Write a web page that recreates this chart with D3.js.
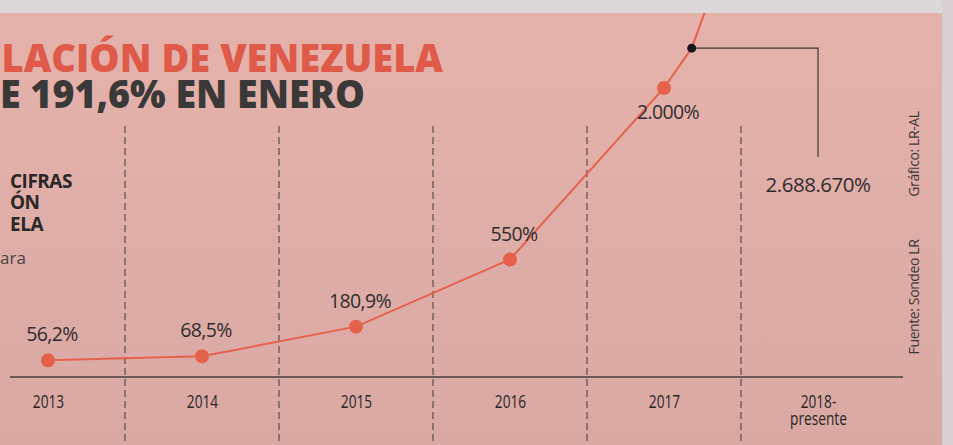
<!DOCTYPE html>
<html><head><meta charset="utf-8">
<script src="https://cdn.jsdelivr.net/npm/d3@7"></script>
<style>html,body{margin:0;padding:0;background:#dcd8da;overflow:hidden}svg{display:block}</style>
</head><body>
<script>
// ---- data ----
const years = [2013, 2014, 2015, 2016, 2017, 2018];
const yearLabels = [["2013"], ["2014"], ["2015"], ["2016"], ["2017"], ["2018-", "presente"]];
const inflation = [56.2, 68.5, 180.9, 550, 2000];
const valueLabels = ["56,2%", "68,5%", "180,9%", "550%", "2.000%"];
const labelSide = ["above", "above", "above", "above", "below"];
// continuation of the curve after 2017
const trendYears = [2017.18, 2017.27];
const trendValues = [2420, 2850];
const calloutYear = 2017.18;
const calloutValue = 2420;
const calloutLabel = "2.688.670%";
const calloutTarget = 2018;

const W = 953, H = 445;
const svg = d3.select("body").append("svg").attr("width", W).attr("height", H);
const defs = svg.append("defs");
const grad = defs.append("linearGradient").attr("id", "bg").attr("x1", 0).attr("y1", 0).attr("x2", 0).attr("y2", 1);
grad.append("stop").attr("offset", "0%").attr("stop-color", "#e5b2ab");
grad.append("stop").attr("offset", "100%").attr("stop-color", "#daa9a4");

svg.append("rect").attr("width", W).attr("height", H).attr("fill", "#dcd8da");
svg.append("rect").attr("x", 0).attr("y", 13).attr("width", 942).attr("height", H - 13).attr("fill", "url(#bg)");

const x = d3.scaleLinear().domain([2013, 2018]).range([48, 818]);
const y = d3.scalePow().exponent(0.65).domain([0, 2000]).range([390, 88]);

const dark = "#302c2c";
const red = "#e6614b";

// dashed separators
const seps = years.slice(0, -1).map(d => d + 0.5);
svg.append("g").selectAll("line").data(seps).join("line")
  .attr("x1", d => x(d)).attr("x2", d => x(d))
  .attr("y1", 126).attr("y2", H)
  .attr("stroke", "#4e4646").attr("stroke-width", 1.1)
  .attr("stroke-dasharray", "7,4");

// axis
const axis = d3.axisBottom(x).tickValues(years).tickSize(0).tickFormat("");
const ag = svg.append("g").attr("transform", "translate(0,377)").call(axis);
ag.select(".domain").remove();
ag.append("line").attr("x1", 10).attr("x2", 903).attr("stroke", "#443e3e").attr("stroke-width", 1.4);
ag.selectAll(".tick").each(function(d, i) {
  const t = d3.select(this).append("text")
    .attr("fill", "#2a2626").attr("text-anchor", "middle")
    .attr("transform", "scale(0.72,1)")
    .style("font-family", "'Open Sans',sans-serif")
    .style("font-size", "19px");
  yearLabels[i].forEach((s, j) => {
    t.append("tspan").attr("x", 0).attr("y", 31 + j * 17).text(s);
  });
});

// line
const pts = inflation.map((v, i) => [x(years[i]), y(v)])
  .concat(trendValues.map((v, i) => [x(trendYears[i]), y(v)]));
svg.append("path").datum(pts)
  .attr("d", d3.line())
  .attr("fill", "none").attr("stroke", red).attr("stroke-width", 2);

// points
svg.append("g").selectAll("circle").data(inflation).join("circle")
  .attr("cx", (d, i) => x(years[i])).attr("cy", d => y(d)).attr("r", 7)
  .attr("fill", red);

// value labels
svg.append("g").selectAll("text").data(inflation).join("text")
  .attr("x", (d, i) => x(years[i]) + 4)
  .attr("y", (d, i) => y(d) + (labelSide[i] === "above" ? -19 : 31))
  .attr("text-anchor", "middle").attr("fill", dark)
  .style("font-family", "'Open Sans',sans-serif").style("font-size", "19.5px")
  .style("letter-spacing", "-0.6px")
  .text((d, i) => valueLabels[i]);

// callout
const cx0 = x(calloutYear), cy0 = y(calloutValue);
svg.append("path")
  .attr("d", `M${cx0},${cy0}H${x(calloutTarget)}V157`)
  .attr("fill", "none").attr("stroke", "#3e3838").attr("stroke-width", 1.2);
svg.append("circle").attr("cx", cx0).attr("cy", cy0).attr("r", 4.5).attr("fill", "#161616");
svg.append("text").attr("x", x(calloutTarget)).attr("y", 192)
  .attr("text-anchor", "middle").attr("fill", dark)
  .style("font-family", "'Open Sans',sans-serif").style("font-size", "20.5px")
  .style("letter-spacing", "-0.5px")
  .text(calloutLabel);

// top strip over the line end
svg.append("rect").attr("x", 0).attr("y", 0).attr("width", W).attr("height", 13).attr("fill", "#dcd8da");
svg.append("rect").attr("x", 942).attr("y", 0).attr("width", W - 942).attr("height", H).attr("fill", "#d6d0d2");

// title
svg.append("text").attr("x", 443).attr("y", 72).attr("text-anchor", "end")
  .attr("fill", "#df5a48")
  .attr("textLength", 462).attr("lengthAdjust", "spacingAndGlyphs")
  .style("font-family", "'Open Sans',sans-serif").style("font-weight", 800).style("font-size", "38px")
  .text("FLACIÓN DE VENEZUELA");
svg.append("text").attr("x", 0).attr("y", 108)
  .attr("fill", "#3b3838")
  .attr("textLength", 365).attr("lengthAdjust", "spacingAndGlyphs")
  .style("font-family", "'Open Sans',sans-serif").style("font-weight", 800).style("font-size", "38px")
  .text("E 191,6% EN ENERO");

// left subtitle block
const sub = [["CIFRAS", 188], ["ÓN", 209], ["ELA", 231]];
svg.append("g").selectAll("text").data(sub).join("text")
  .attr("x", 10).attr("y", d => d[1]).attr("fill", "#2a2727")
  .style("font-family", "'Open Sans',sans-serif").style("font-weight", 700).style("font-size", "19px")
  .style("letter-spacing", "-0.5px")
  .text(d => d[0]);
svg.append("text").attr("x", 0).attr("y", 264).attr("fill", "#4a4444")
  .style("font-family", "'Open Sans',sans-serif").style("font-size", "17px")
  .text("ara");

// credits
[["Gráfico: LR-AL", 154], ["Fuente: Sondeo LR", 297]].forEach(([s, cy]) => {
  svg.append("text").attr("transform", `translate(919,${cy}) rotate(-90)`)
    .attr("text-anchor", "middle").attr("fill", "#3d3838")
    .style("font-family", "'Open Sans',sans-serif").style("font-size", "14px")
    .style("letter-spacing", "-0.4px")
    .text(s);
});
</script>
</body></html>
